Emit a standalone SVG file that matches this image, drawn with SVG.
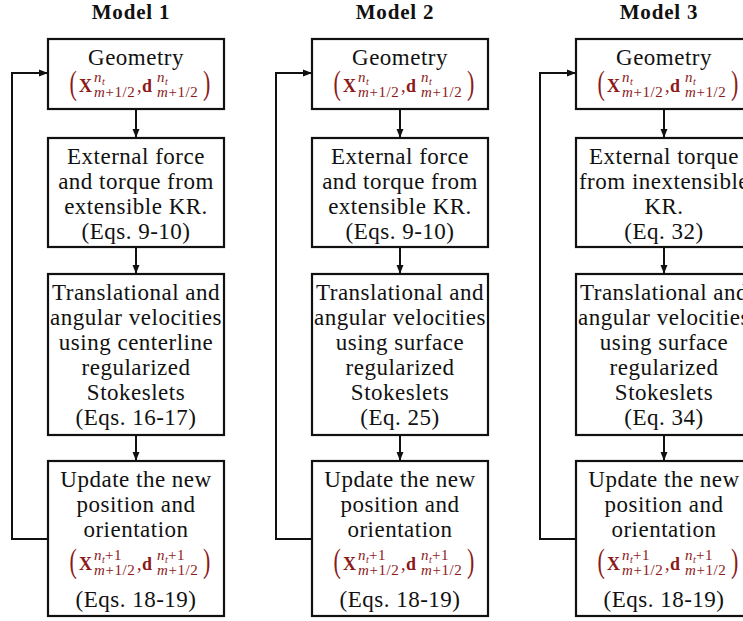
<svg xmlns="http://www.w3.org/2000/svg" width="743" height="621" viewBox="0 0 743 621">
<defs>
<marker id="ah" viewBox="0 0 10 10" refX="10" refY="5" markerWidth="9" markerHeight="9" markerUnits="userSpaceOnUse" orient="auto"><path d="M0,1.2 L10,5 L0,8.8 z" fill="#111"/></marker>
</defs>
<style>
.box{fill:#fff;stroke:#111;stroke-width:2.2}
.t{font-family:"Liberation Serif","Times New Roman",serif;font-size:23px;fill:#111;text-anchor:middle;letter-spacing:0.5px}
.ttl{font-family:"Liberation Serif","Times New Roman",serif;font-size:21px;font-weight:bold;fill:#111;text-anchor:middle;letter-spacing:0.8px}
.m{font-family:"Liberation Serif","Times New Roman",serif;fill:#8b1a1a}
.mb{font-size:18px;font-weight:bold}
.mc{font-size:18px}
.ms{font-size:15px;font-style:italic;letter-spacing:0.6px}
.mr{font-style:normal}
.mt{font-size:10px;font-style:italic;letter-spacing:0}
.par{font-size:22px}
.c{fill:none;stroke:#111;stroke-width:2}
</style>
<rect width="743" height="621" fill="#fff"/>

<g id="titles">
<text class="ttl" x="131" y="19">Model 1</text>
<text class="ttl" x="395" y="19">Model 2</text>
<text class="ttl" x="659" y="19">Model 3</text>
</g>

<!-- Model 1 -->
<g id="m1-geometry">
<rect class="box" x="48" y="39" width="176" height="70"/>
<text class="t" x="136" y="65">Geometry</text>
<text class="m par" transform="translate(69.5,94.2) scale(1,1.5)">(</text>
<text class="m mb" x="79" y="92">X</text>
<text class="m ms" x="94" y="81.5">n<tspan class="mt" dy="3">t</tspan></text>
<text class="m ms" x="94" y="97">m<tspan class="mr">+1/2</tspan></text>
<text class="m mc" x="137" y="92">,</text>
<text class="m mb" x="142" y="92">d</text>
<text class="m ms" x="157" y="81.5">n<tspan class="mt" dy="3">t</tspan></text>
<text class="m ms" x="157" y="97">m<tspan class="mr">+1/2</tspan></text>
<text class="m par" transform="translate(203,94.2) scale(1,1.5)">)</text>
</g>
<g id="m1-external">
<rect class="box" x="48" y="138" width="176" height="109"/>
<text class="t" x="136" y="164">External force</text>
<text class="t" x="136" y="189">and torque from</text>
<text class="t" x="136" y="214">extensible KR.</text>
<text class="t" x="136" y="239">(Eqs. 9-10)</text>
</g>
<g id="m1-velocities">
<rect class="box" x="48" y="274" width="176" height="161"/>
<text class="t" x="136" y="300">Translational and</text>
<text class="t" x="136" y="325">angular velocities</text>
<text class="t" x="136" y="350">using centerline</text>
<text class="t" x="136" y="375">regularized</text>
<text class="t" x="136" y="400">Stokeslets</text>
<text class="t" x="136" y="425">(Eqs. 16-17)</text>
</g>
<g id="m1-update">
<rect class="box" x="48" y="461" width="176" height="155"/>
<text class="t" x="136" y="487">Update the new</text>
<text class="t" x="136" y="512">position and</text>
<text class="t" x="136" y="537">orientation</text>
<text class="m par" transform="translate(69.5,572.2) scale(1,1.5)">(</text>
<text class="m mb" x="79" y="570">X</text>
<text class="m ms" x="94" y="559.5">n<tspan class="mt" dy="3">t</tspan><tspan class="mr" dy="-3">+1</tspan></text>
<text class="m ms" x="94" y="575">m<tspan class="mr">+1/2</tspan></text>
<text class="m mc" x="137" y="570">,</text>
<text class="m mb" x="142" y="570">d</text>
<text class="m ms" x="157" y="559.5">n<tspan class="mt" dy="3">t</tspan><tspan class="mr" dy="-3">+1</tspan></text>
<text class="m ms" x="157" y="575">m<tspan class="mr">+1/2</tspan></text>
<text class="m par" transform="translate(203,572.2) scale(1,1.5)">)</text>
<text class="t" x="136" y="607">(Eqs. 18-19)</text>
</g>

<!-- Model 2 -->
<g id="m2-geometry" transform="translate(264,0)">
<rect class="box" x="48" y="39" width="176" height="70"/>
<text class="t" x="136" y="65">Geometry</text>
<text class="m par" transform="translate(69.5,94.2) scale(1,1.5)">(</text>
<text class="m mb" x="79" y="92">X</text>
<text class="m ms" x="94" y="81.5">n<tspan class="mt" dy="3">t</tspan></text>
<text class="m ms" x="94" y="97">m<tspan class="mr">+1/2</tspan></text>
<text class="m mc" x="137" y="92">,</text>
<text class="m mb" x="142" y="92">d</text>
<text class="m ms" x="157" y="81.5">n<tspan class="mt" dy="3">t</tspan></text>
<text class="m ms" x="157" y="97">m<tspan class="mr">+1/2</tspan></text>
<text class="m par" transform="translate(203,94.2) scale(1,1.5)">)</text>
</g>
<g id="m2-external" transform="translate(264,0)">
<rect class="box" x="48" y="138" width="176" height="109"/>
<text class="t" x="136" y="164">External force</text>
<text class="t" x="136" y="189">and torque from</text>
<text class="t" x="136" y="214">extensible KR.</text>
<text class="t" x="136" y="239">(Eqs. 9-10)</text>
</g>
<g id="m2-velocities" transform="translate(264,0)">
<rect class="box" x="48" y="274" width="176" height="161"/>
<text class="t" x="136" y="300">Translational and</text>
<text class="t" x="136" y="325">angular velocities</text>
<text class="t" x="136" y="350">using surface</text>
<text class="t" x="136" y="375">regularized</text>
<text class="t" x="136" y="400">Stokeslets</text>
<text class="t" x="136" y="425">(Eq. 25)</text>
</g>
<g id="m2-update" transform="translate(264,0)">
<rect class="box" x="48" y="461" width="176" height="155"/>
<text class="t" x="136" y="487">Update the new</text>
<text class="t" x="136" y="512">position and</text>
<text class="t" x="136" y="537">orientation</text>
<text class="m par" transform="translate(69.5,572.2) scale(1,1.5)">(</text>
<text class="m mb" x="79" y="570">X</text>
<text class="m ms" x="94" y="559.5">n<tspan class="mt" dy="3">t</tspan><tspan class="mr" dy="-3">+1</tspan></text>
<text class="m ms" x="94" y="575">m<tspan class="mr">+1/2</tspan></text>
<text class="m mc" x="137" y="570">,</text>
<text class="m mb" x="142" y="570">d</text>
<text class="m ms" x="157" y="559.5">n<tspan class="mt" dy="3">t</tspan><tspan class="mr" dy="-3">+1</tspan></text>
<text class="m ms" x="157" y="575">m<tspan class="mr">+1/2</tspan></text>
<text class="m par" transform="translate(203,572.2) scale(1,1.5)">)</text>
<text class="t" x="136" y="607">(Eqs. 18-19)</text>
</g>

<!-- Model 3 -->
<g id="m3-geometry" transform="translate(528,0)">
<rect class="box" x="48" y="39" width="176" height="70"/>
<text class="t" x="136" y="65">Geometry</text>
<text class="m par" transform="translate(69.5,94.2) scale(1,1.5)">(</text>
<text class="m mb" x="79" y="92">X</text>
<text class="m ms" x="94" y="81.5">n<tspan class="mt" dy="3">t</tspan></text>
<text class="m ms" x="94" y="97">m<tspan class="mr">+1/2</tspan></text>
<text class="m mc" x="137" y="92">,</text>
<text class="m mb" x="142" y="92">d</text>
<text class="m ms" x="157" y="81.5">n<tspan class="mt" dy="3">t</tspan></text>
<text class="m ms" x="157" y="97">m<tspan class="mr">+1/2</tspan></text>
<text class="m par" transform="translate(203,94.2) scale(1,1.5)">)</text>
</g>
<g id="m3-external" transform="translate(528,0)">
<rect class="box" x="48" y="138" width="176" height="109"/>
<text class="t" x="136" y="164">External torque</text>
<text class="t" x="136" y="189">from inextensible</text>
<text class="t" x="136" y="214">KR.</text>
<text class="t" x="136" y="239">(Eq. 32)</text>
</g>
<g id="m3-velocities" transform="translate(528,0)">
<rect class="box" x="48" y="274" width="176" height="161"/>
<text class="t" x="136" y="300">Translational and</text>
<text class="t" x="136" y="325">angular velocities</text>
<text class="t" x="136" y="350">using surface</text>
<text class="t" x="136" y="375">regularized</text>
<text class="t" x="136" y="400">Stokeslets</text>
<text class="t" x="136" y="425">(Eq. 34)</text>
</g>
<g id="m3-update" transform="translate(528,0)">
<rect class="box" x="48" y="461" width="176" height="155"/>
<text class="t" x="136" y="487">Update the new</text>
<text class="t" x="136" y="512">position and</text>
<text class="t" x="136" y="537">orientation</text>
<text class="m par" transform="translate(69.5,572.2) scale(1,1.5)">(</text>
<text class="m mb" x="79" y="570">X</text>
<text class="m ms" x="94" y="559.5">n<tspan class="mt" dy="3">t</tspan><tspan class="mr" dy="-3">+1</tspan></text>
<text class="m ms" x="94" y="575">m<tspan class="mr">+1/2</tspan></text>
<text class="m mc" x="137" y="570">,</text>
<text class="m mb" x="142" y="570">d</text>
<text class="m ms" x="157" y="559.5">n<tspan class="mt" dy="3">t</tspan><tspan class="mr" dy="-3">+1</tspan></text>
<text class="m ms" x="157" y="575">m<tspan class="mr">+1/2</tspan></text>
<text class="m par" transform="translate(203,572.2) scale(1,1.5)">)</text>
<text class="t" x="136" y="607">(Eqs. 18-19)</text>
</g>

<g id="connectors">
<path class="c" d="M136,109 V138" marker-end="url(#ah)"/>
<path class="c" d="M136,247 V274" marker-end="url(#ah)"/>
<path class="c" d="M136,435 V461" marker-end="url(#ah)"/>
<path class="c" d="M48,539 H12 V73 H48" marker-end="url(#ah)"/>
<path class="c" d="M400,109 V138" marker-end="url(#ah)"/>
<path class="c" d="M400,247 V274" marker-end="url(#ah)"/>
<path class="c" d="M400,435 V461" marker-end="url(#ah)"/>
<path class="c" d="M312,539 H276 V73 H312" marker-end="url(#ah)"/>
<path class="c" d="M664,109 V138" marker-end="url(#ah)"/>
<path class="c" d="M664,247 V274" marker-end="url(#ah)"/>
<path class="c" d="M664,435 V461" marker-end="url(#ah)"/>
<path class="c" d="M576,539 H540 V73 H576" marker-end="url(#ah)"/>
</g>
</svg>
